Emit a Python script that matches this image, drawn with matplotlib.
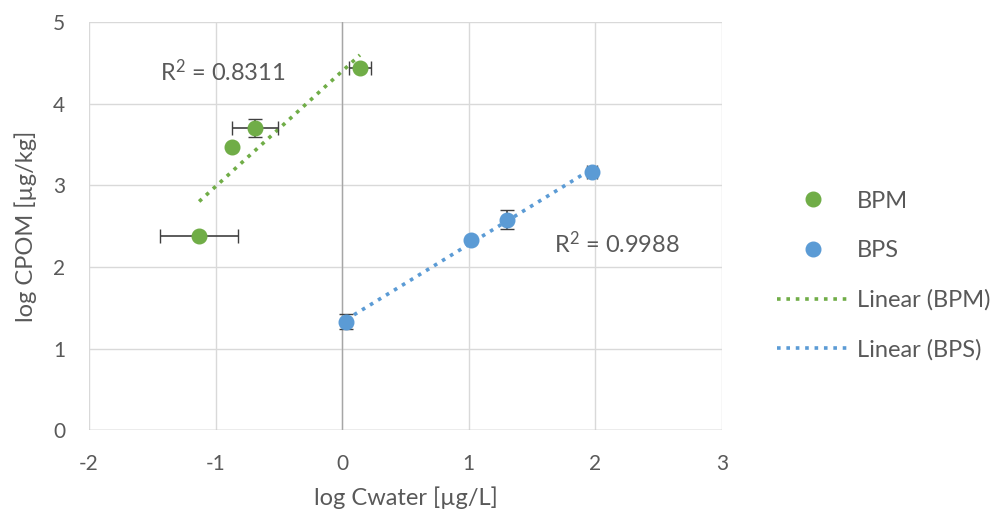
import numpy as np
import matplotlib.pyplot as plt
from matplotlib.lines import Line2D

# data
bpm_x = [-1.13, -0.87, -0.69, 0.14]
bpm_y = [2.38, 3.47, 3.71, 4.44]
bpm_xerr = [0.31, 0.0, 0.18, 0.09]
bpm_yerr = [0.0, 0.0, 0.11, 0.0]

bps_x = [0.03, 1.02, 1.30, 1.97]
bps_y = [1.33, 2.33, 2.58, 3.17]
bps_xerr = [0.0, 0.0, 0.0, 0.04]
bps_yerr = [0.09, 0.0, 0.12, 0.0]

bpm_r2 = "R$^2$ = 0.8311"
bps_r2 = "R$^2$ = 0.9988"

green = "#70ad47"
blue = "#5b9bd5"
grey_text = "#595959"

plt.rcParams['font.family'] = ['Lato', 'DejaVu Sans']
plt.rcParams['axes.unicode_minus'] = False
plt.rcParams['mathtext.fontset'] = 'custom'
plt.rcParams['mathtext.rm'] = 'Lato'
plt.rcParams['mathtext.default'] = 'regular'

fig = plt.figure(figsize=(10, 5.2), dpi=100)
ax = fig.add_axes([0.089, 0.173, 0.633, 0.784])

ax.set_xlim(-2, 3)
ax.set_ylim(0, 5)
ax.set_xticks(range(-2, 4))
ax.set_yticks(range(0, 6))
ax.grid(True, color="#d9d9d9", linewidth=1)
ax.set_axisbelow(True)
for s in ax.spines.values():
    s.set_visible(False)
ax.axvline(0, color="#a6a6a6", linewidth=1, zorder=1)
ax.axhline(0, color="#bfbfbf", linewidth=1, zorder=1)
ax.tick_params(length=0, labelsize=15, labelcolor=grey_text)
ax.tick_params(axis='x', pad=17)
ax.tick_params(axis='y', pad=17)

# trend lines
for xs, ys, c in [(bpm_x, bpm_y, green), (bps_x, bps_y, blue)]:
    k, b = np.polyfit(xs, ys, 1)
    xx = np.array([min(xs), max(xs)])
    ax.plot(xx, k * xx + b, color=c, linestyle=(0, (1, 1.6)), linewidth=2.6, zorder=2)

# points with error bars
ax.errorbar(bpm_x, bpm_y, xerr=bpm_xerr, yerr=bpm_yerr, fmt='o', color=green,
            markersize=10.5, ecolor="#404040", elinewidth=1.2, capsize=5, zorder=3)
ax.errorbar(bps_x, bps_y, xerr=bps_xerr, yerr=bps_yerr, fmt='o', color=blue,
            markersize=10.5, ecolor="#404040", elinewidth=1.2, capsize=5, zorder=3)

ax.text(-0.945, 4.39, bpm_r2, fontsize=17, color=grey_text, ha='center', va='center')
ax.text(2.17, 2.28, bps_r2, fontsize=17, color=grey_text, ha='center', va='center')

ax.set_xlabel("log Cwater [µg/L]", fontsize=17, color=grey_text, labelpad=9)
ax.set_ylabel("log CPOM [µg/kg]", fontsize=17, color=grey_text, labelpad=12)

handles = [
    Line2D([], [], marker='o', linestyle='none', color=green, markersize=10.5),
    Line2D([], [], marker='o', linestyle='none', color=blue, markersize=10.5),
    Line2D([], [], color=green, linestyle=(0, (1, 1.6)), linewidth=2.6),
    Line2D([], [], color=blue, linestyle=(0, (1, 1.6)), linewidth=2.6),
]
labels = ["BPM", "BPS", "Linear (BPM)", "Linear (BPS)"]
leg = fig.legend(handles, labels, loc='center left', bbox_to_anchor=(0.765, 0.47),
                 frameon=False, fontsize=17, labelspacing=1.2, handlelength=3.1,
                 handletextpad=0.3, borderpad=0)
for t in leg.get_texts():
    t.set_color(grey_text)

fig.savefig("out.png", dpi=100)
